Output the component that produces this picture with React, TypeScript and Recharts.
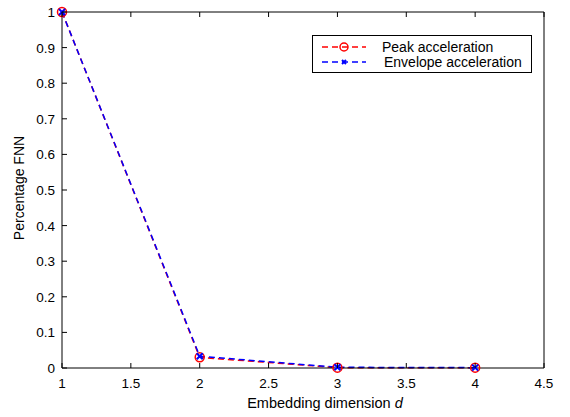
import { LineChart, Line, XAxis, YAxis } from 'recharts'

const dims = [1, 2, 3, 4]
const peak = [1, 0.03, 0.001, 0.001]
const envelope = [1, 0.033, 0.002, 0.001]
const xTicks = [1, 1.5, 2, 2.5, 3, 3.5, 4, 4.5]
const yTicks = [0, 0.1, 0.2, 0.3, 0.4, 0.5, 0.6, 0.7, 0.8, 0.9, 1]

const data = dims.map((d, i) => ({ d, peak: peak[i], envelope: envelope[i] }))

const FONT = '"Liberation Sans", Arial, sans-serif'
const FS = 14
const TICK_FS = 13.5
const TICK_LEN = 5

const BottomTick = (p: any) => (
  <g>
    <line x1={p.x} y1={p.y} x2={p.x} y2={p.y - TICK_LEN} stroke="#000" />
    <text x={p.x} y={p.y + 20} textAnchor="middle" fontSize={TICK_FS} fontFamily={FONT} fill="#000">{p.payload.value}</text>
  </g>
)
const TopTick = (p: any) => <line x1={p.x} y1={p.y} x2={p.x} y2={p.y + TICK_LEN} stroke="#000" />
const LeftTick = (p: any) => (
  <g>
    <line x1={p.x} y1={p.y} x2={p.x + TICK_LEN} y2={p.y} stroke="#000" />
    <text x={p.x - 7} y={p.y + 5} textAnchor="end" fontSize={TICK_FS} fontFamily={FONT} fill="#000">{p.payload.value}</text>
  </g>
)
const RightTick = (p: any) => <line x1={p.x} y1={p.y} x2={p.x - TICK_LEN} y2={p.y} stroke="#000" />

const Circle = (p: any) => <circle key={p.index} cx={p.cx} cy={p.cy} r={4.5} fill="none" stroke="#ff0000" strokeWidth={1.5} />
const Cross = (p: any) => (
  <g key={p.index}>
    <line x1={p.cx - 3} y1={p.cy - 3} x2={p.cx + 3} y2={p.cy + 3} stroke="#0000ff" strokeWidth={2} />
    <line x1={p.cx - 3} y1={p.cy + 3} x2={p.cx + 3} y2={p.cy - 3} stroke="#0000ff" strokeWidth={2} />
  </g>
)

const LegendBox = () => (
  <svg width={220} height={38} style={{ display: 'block' }}>
    <rect x={0.5} y={0.5} width={219} height={37} fill="#fff" stroke="#000" />
    <line x1={10} y1={12} x2={54} y2={12} stroke="#ff0000" strokeWidth={1.5} strokeDasharray="6 4" />
    <circle cx={32} cy={12} r={4} fill="none" stroke="#ff0000" strokeWidth={1.5} />
    <text x={70} y={17} fontSize={FS} fontFamily={FONT} fill="#000">Peak acceleration</text>
    <line x1={10} y1={27} x2={54} y2={27} stroke="#0000ff" strokeWidth={1.5} strokeDasharray="6 4" />
    <line x1={30} y1={25} x2={34} y2={29} stroke="#0000ff" strokeWidth={2} />
    <line x1={30} y1={29} x2={34} y2={25} stroke="#0000ff" strokeWidth={2} />
    <text x={72} y={32} fontSize={FS} fontFamily={FONT} fill="#000">Envelope acceleration</text>
  </svg>
)

const XLabel = (p: any) => {
  const vb = p.viewBox
  return (
    <text x={vb.x + vb.width / 2 + 22} y={vb.y + 40} textAnchor="middle" fontSize={14.5} fontFamily={FONT} fill="#000">
      Embedding dimension <tspan fontStyle="italic">d</tspan>
    </text>
  )
}

export default function App() {
  return (
    <div style={{ background: '#fff', width: 570, height: 417, position: 'relative' }}>
      <style>{`body{margin:0}`}</style>
      <LineChart width={570} height={417} data={data} margin={{ top: 11, right: 25, left: 0, bottom: 0 }}>
        <XAxis xAxisId="b" dataKey="d" type="number" domain={[1, 4.5]} ticks={xTicks} height={49}
          axisLine={{ stroke: '#000' }} tickLine={false} tickSize={0} tickMargin={0} tick={<BottomTick />}
          label={{ content: XLabel }} interval={0} />
        <XAxis xAxisId="t" dataKey="d" type="number" orientation="top" domain={[1, 4.5]} ticks={xTicks} height={1}
          axisLine={{ stroke: '#000' }} tickLine={false} tickSize={0} tickMargin={0} tick={<TopTick />} interval={0} />
        <YAxis yAxisId="l" type="number" domain={[0, 1]} ticks={yTicks} width={62}
          axisLine={{ stroke: '#000' }} tickLine={false} tickSize={0} tickMargin={0} tick={<LeftTick />} interval={0}
          label={{ value: 'Percentage FNN', angle: -90, position: 'insideLeft', dx: 14, dy: -2, style: { fontSize: FS, fontFamily: FONT, fill: '#000', textAnchor: 'middle' } }} />
        <YAxis yAxisId="r" type="number" orientation="right" domain={[0, 1]} ticks={yTicks} width={1}
          axisLine={{ stroke: '#000' }} tickLine={false} tickSize={0} tickMargin={0} tick={<RightTick />} interval={0} />
        <Line xAxisId="b" yAxisId="l" dataKey="peak" name="Peak acceleration" stroke="#ff0000" strokeWidth={1.5}
          strokeDasharray="6 4" dot={Circle} activeDot={false} isAnimationActive={false} />
        <Line xAxisId="b" yAxisId="l" dataKey="envelope" name="Envelope acceleration" stroke="#0000ff" strokeWidth={1.5}
          strokeDasharray="6 4" dot={Cross} activeDot={false} isAnimationActive={false} />
      </LineChart>
      <div style={{ position: 'absolute', top: 35, left: 312 }}>
        <LegendBox />
      </div>
    </div>
  )
}
